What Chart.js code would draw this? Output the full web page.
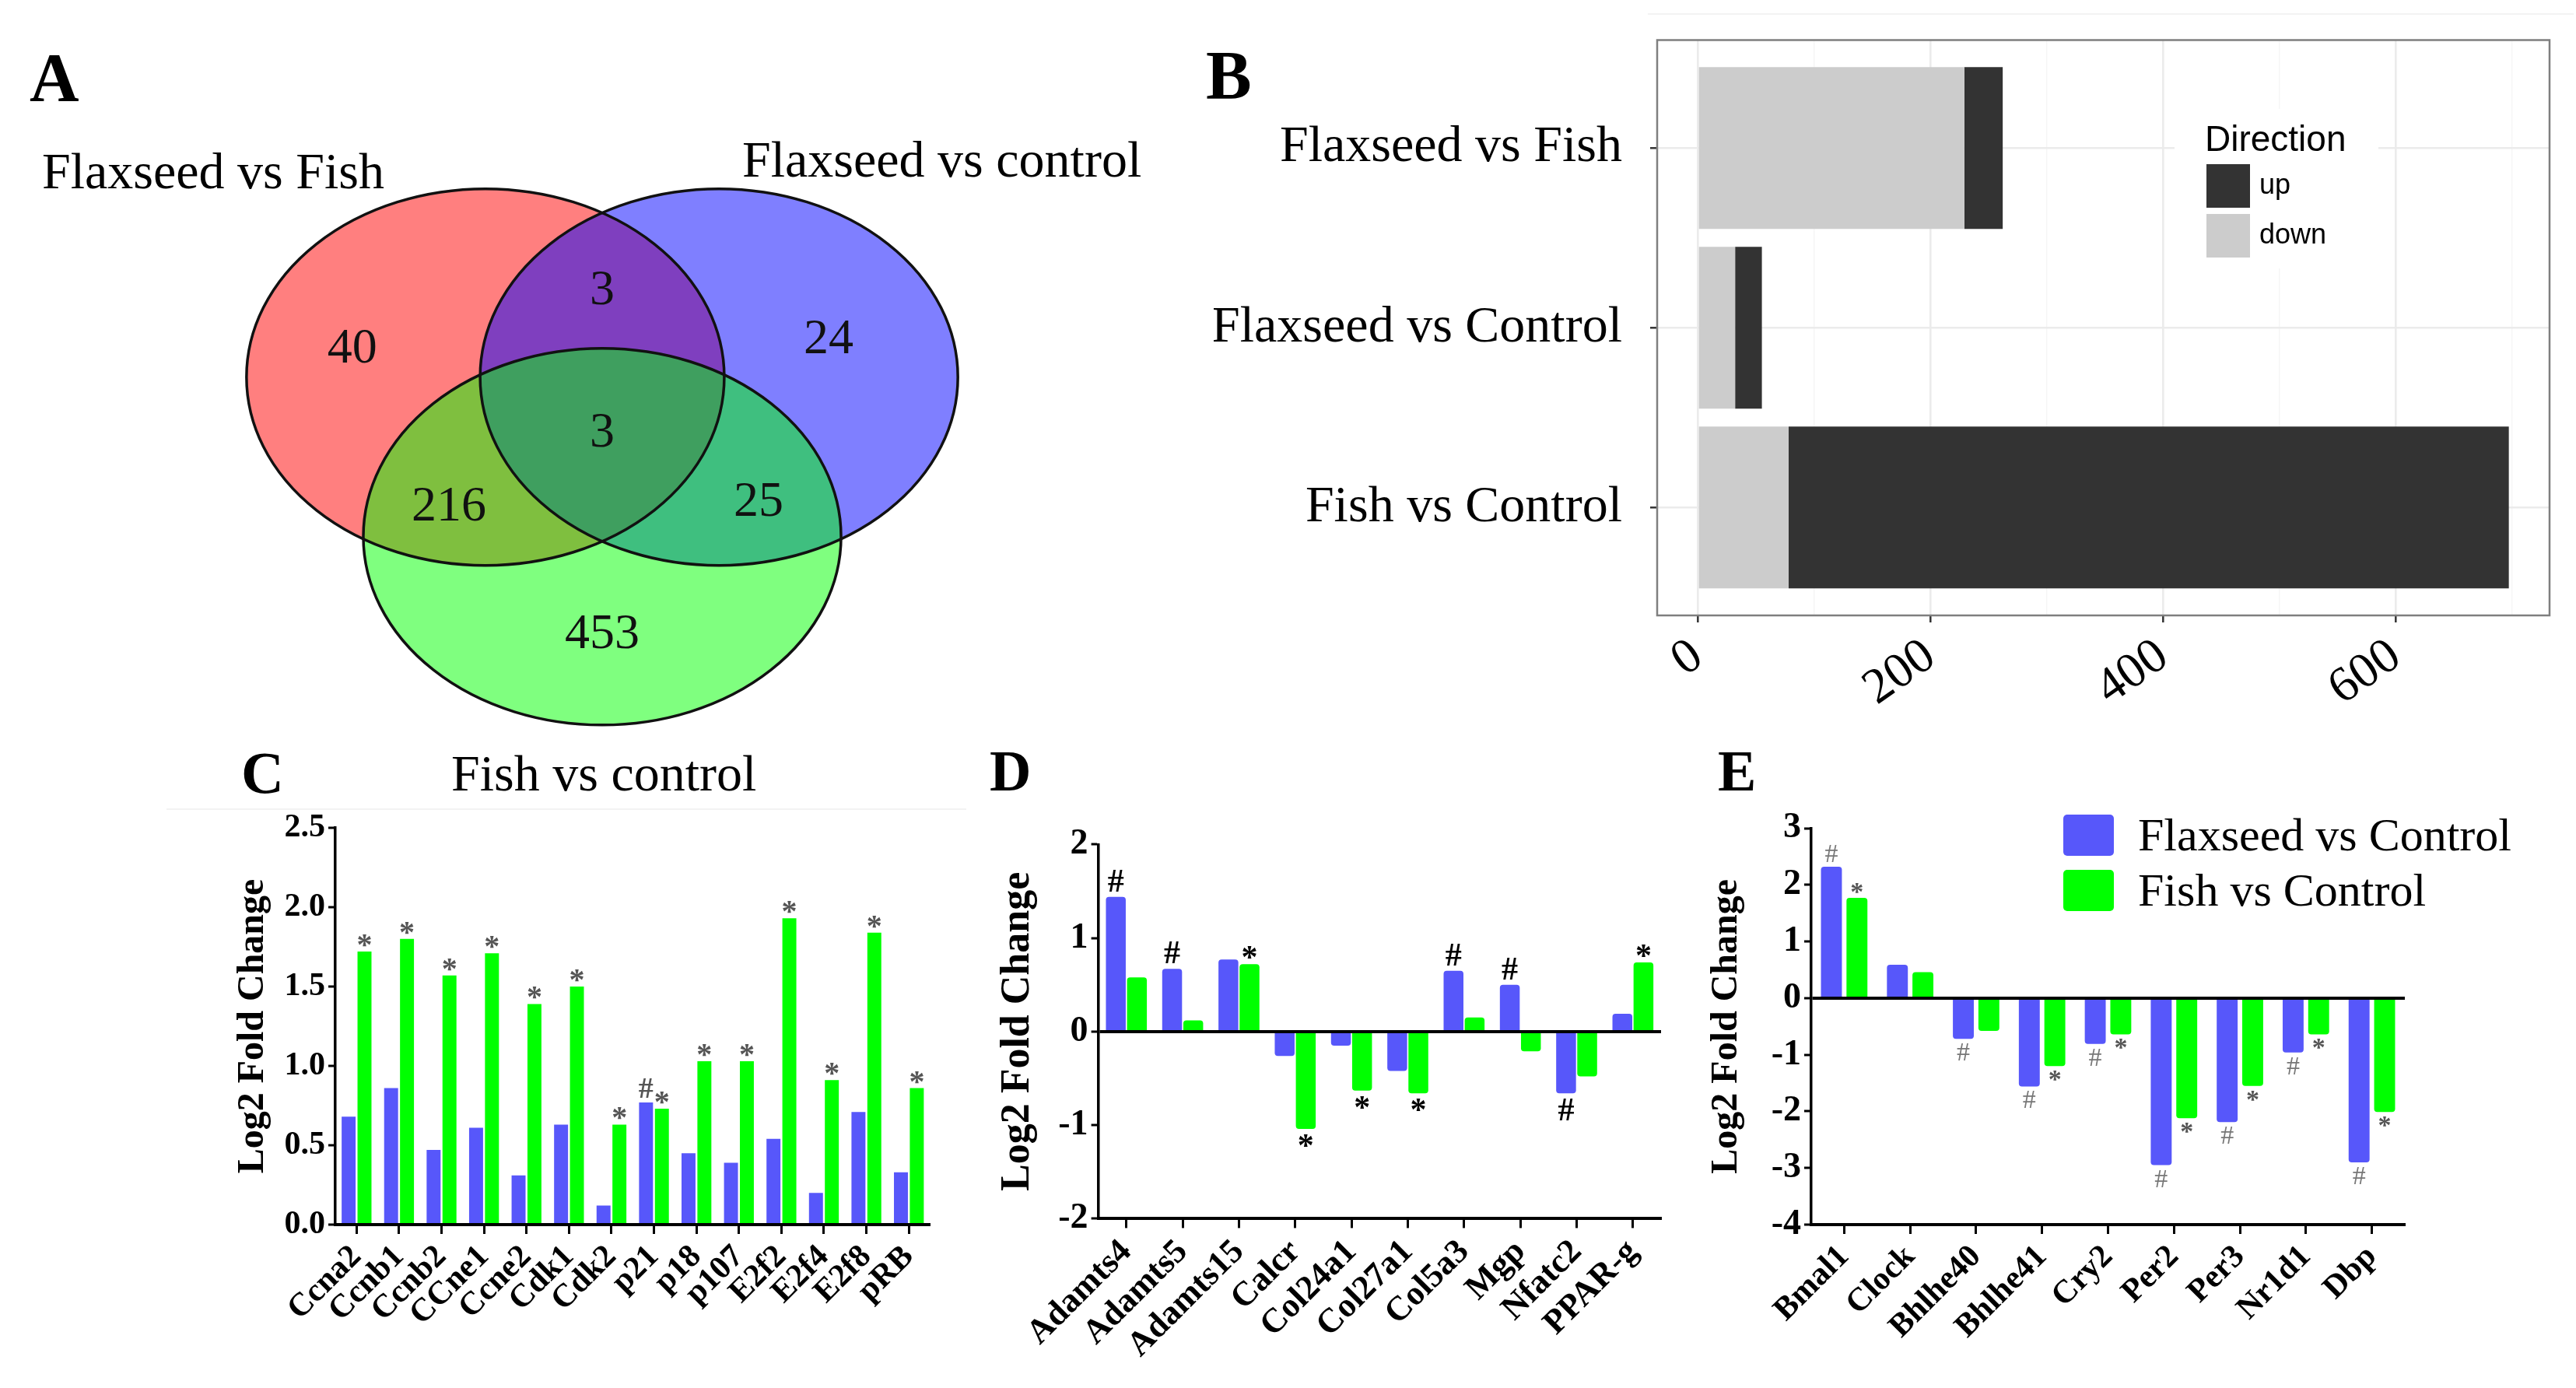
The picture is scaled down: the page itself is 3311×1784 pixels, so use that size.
<!DOCTYPE html>
<html>
<head>
<meta charset="utf-8">
<script src="https://cdn.jsdelivr.net/npm/chart.js@4.4.1/dist/chart.umd.min.js"></script>
<style>
  html, body { margin: 0; padding: 0; background: #fff; }
  body { width: 3311px; height: 1784px; position: relative; overflow: hidden; }
  canvas { position: absolute; }
  .txt { position: absolute; line-height: 1; white-space: nowrap; color: #000;
         font-family: "Liberation Serif", "Times New Roman", serif; }
  .b { font-weight: bold; }
  .rule { position: absolute; height: 2px; background: #f3f3f3; }
</style>
</head>
<body>
<canvas id="chartA" width="1560" height="950" style="left:0;top:0;width:1560px;height:950px"></canvas>
<canvas id="chartB" width="1751" height="950" style="left:1560px;top:0;width:1751px;height:950px"></canvas>
<canvas id="chartC" width="1060" height="754" style="left:200px;top:1030px;width:1060px;height:754px"></canvas>
<canvas id="chartD" width="890" height="754" style="left:1260px;top:1030px;width:890px;height:754px"></canvas>
<canvas id="chartE" width="1161" height="754" style="left:2150px;top:1030px;width:1161px;height:754px"></canvas>

<div class="rule" style="left:2118px;top:17px;width:1190px"></div>
<div class="rule" style="left:214px;top:1039px;width:1028px"></div>

<div class="txt b" style="left:38px;top:56px;font-size:88px">A</div>
<div class="txt b" style="left:1550px;top:53px;font-size:88px">B</div>
<div class="txt b" style="left:310px;top:955px;font-size:76px">C</div>
<div class="txt b" style="left:1272px;top:954px;font-size:74px">D</div>
<div class="txt b" style="left:2208px;top:954px;font-size:74px">E</div>
<div class="txt" style="left:54px;top:187px;font-size:66px">Flaxseed vs Fish</div>
<div class="txt" style="left:954px;top:172px;font-size:66px">Flaxseed vs control</div>
<div class="txt" style="left:580px;top:961px;font-size:66px">Fish vs control</div>

<script>
// ---- data ----
const vennSets = ['Flaxseed vs Fish', 'Flaxseed vs control', 'Fish vs control'];
// regions: FvF only, FvF&FvC, FvC only, all three, FvF&Fish, FvC&Fish, Fish only
const vennCounts = [40, 3, 24, 3, 216, 25, 453];

const bCategories = ['Flaxseed vs Fish', 'Flaxseed vs Control', 'Fish vs Control'];
const bDown = [229, 32, 78];
const bUp = [33, 23, 619];
const bTickLabels = [0, 200, 400, 600];

const seriesNames = ['Flaxseed vs Control', 'Fish vs Control'];

const cGenes = ['Ccna2', 'Ccnb1', 'Ccnb2', 'CCne1', 'Ccne2', 'Cdk1', 'Cdk2', 'p21', 'p18', 'p107', 'E2f2', 'E2f4', 'E2f8', 'pRB'];
const cFlax = [0.68, 0.86, 0.47, 0.61, 0.31, 0.63, 0.12, 0.77, 0.45, 0.39, 0.54, 0.20, 0.71, 0.33];
const cFish = [1.72, 1.80, 1.57, 1.71, 1.39, 1.50, 0.63, 0.73, 1.03, 1.03, 1.93, 0.91, 1.84, 0.86];
const cFlaxSig = ['', '', '', '', '', '', '', '#', '', '', '', '', '', ''];
const cFishSig = ['*', '*', '*', '*', '*', '*', '*', '*', '*', '*', '*', '*', '*', '*'];

const dGenes = ['Adamts4', 'Adamts5', 'Adamts15', 'Calcr', 'Col24a1', 'Col27a1', 'Col5a3', 'Mgp', 'Nfatc2', 'PPAR-g'];
const dFlax = [1.44, 0.67, 0.77, -0.26, -0.15, -0.42, 0.65, 0.50, -0.66, 0.19];
const dFish = [0.58, 0.12, 0.72, -1.04, -0.63, -0.66, 0.15, -0.21, -0.48, 0.74];
const dFlaxSig = ['#', '#', '', '', '', '', '#', '#', '#', ''];
const dFishSig = ['', '', '*', '*', '*', '*', '', '', '', '*'];

const eGenes = ['Bmal1', 'Clock', 'Bhlhe40', 'Bhlhe41', 'Cry2', 'Per2', 'Per3', 'Nr1d1', 'Dbp'];
const eFlax = [2.32, 0.59, -0.72, -1.56, -0.81, -2.95, -2.19, -0.96, -2.90];
const eFish = [1.77, 0.46, -0.58, -1.20, -0.64, -2.12, -1.55, -0.64, -2.01];
const eFlaxSig = ['#', '', '#', '#', '#', '#', '#', '#', '#'];
const eFishSig = ['*', '', '', '*', '*', '*', '*', '*', '*'];

// ---- styling ----
const SERIF = '"Liberation Serif", "Times New Roman", serif';
const SANS = '"Liberation Sans", Arial, sans-serif';
const BLUE = '#5757fa';
const GREEN = '#00ff00';

Chart.defaults.animation = false;
Chart.defaults.events = [];
Chart.defaults.plugins.legend.display = false;
Chart.defaults.plugins.tooltip.enabled = false;

// ---- A: venn ----
// unit circles, drawn through the x/y scales
const vennCenters = [[-0.489, 0.2825], [0.489, 0.2825], [0, -0.565]];
const vennFills = ['rgba(255,0,0,0.5)', 'rgba(0,0,255,0.5)', 'rgba(0,255,0,0.5)'];
const vennSpots = [[-1.046, 0.446], [0, 0.756], [0.948, 0.496], [0, 0], [-0.642, -0.393], [0.655, -0.368], [0, -1.07]];

const vennPlugin = {
  id: 'venn',
  afterDatasetsDraw(chart) {
    const { ctx } = chart;
    const x = chart.scales.x, y = chart.scales.y;
    const shapes = vennCenters.map(c => ({
      cx: x.getPixelForValue(c[0]),
      cy: y.getPixelForValue(c[1]),
      rx: Math.abs(x.getPixelForValue(c[0] + 1) - x.getPixelForValue(c[0])),
      ry: Math.abs(y.getPixelForValue(c[1] + 1) - y.getPixelForValue(c[1]))
    }));
    ctx.save();
    shapes.forEach((s, i) => {
      ctx.beginPath();
      ctx.ellipse(s.cx, s.cy, s.rx, s.ry, 0, 0, Math.PI * 2);
      ctx.fillStyle = vennFills[i];
      ctx.fill();
    });
    ctx.lineWidth = 3.5;
    ctx.strokeStyle = '#111';
    shapes.forEach(s => {
      ctx.beginPath();
      ctx.ellipse(s.cx, s.cy, s.rx, s.ry, 0, 0, Math.PI * 2);
      ctx.stroke();
    });
    ctx.fillStyle = '#111';
    ctx.font = '64px ' + SERIF;
    ctx.textAlign = 'center';
    ctx.textBaseline = 'alphabetic';
    vennCounts.forEach((n, i) => {
      const p = vennSpots[i];
      ctx.fillText(String(n), x.getPixelForValue(p[0]), y.getPixelForValue(p[1]) + 21);
    });
    ctx.restore();
  }
};

new Chart(document.getElementById('chartA'), {
  type: 'scatter',
  data: { datasets: [{ label: vennSets.join(', '), data: vennSpots.map(p => ({ x: p[0], y: p[1] })), pointRadius: 0 }] },
  options: {
    responsive: false,
    layout: { padding: 0 },
    scales: {
      x: { type: 'linear', display: false, min: -2.521, max: 2.560 },
      y: { type: 'linear', display: false, min: -1.640, max: 2.285 }
    }
  },
  plugins: [vennPlugin]
});

// ---- B: stacked horizontal bars ----
const panelBorder = {
  id: 'panelBorder',
  afterDatasetsDraw(chart) {
    const { ctx, chartArea: a } = chart;
    ctx.save();
    ctx.strokeStyle = '#7f7f7f';
    ctx.lineWidth = 2.5;
    ctx.strokeRect(a.left, a.top, a.right - a.left, a.bottom - a.top);
    ctx.restore();
  }
};

const directionLegend = {
  id: 'directionLegend',
  afterDraw(chart) {
    const { ctx } = chart;
    const sets = chart.data.datasets;
    ctx.save();
    ctx.fillStyle = '#fff';
    ctx.fillRect(1235, 140, 262, 205);
    ctx.fillStyle = '#000';
    ctx.font = '46px ' + SANS;
    ctx.textBaseline = 'alphabetic';
    ctx.fillText('Direction', 1274, 194);
    ctx.font = '36px ' + SANS;
    ctx.textBaseline = 'middle';
    // up first, then down (legend order)
    [sets[1], sets[0]].forEach((ds, i) => {
      const top = 211 + i * 64;
      ctx.fillStyle = ds.backgroundColor;
      ctx.fillRect(1276, top, 56, 56);
      ctx.fillStyle = '#000';
      ctx.fillText(ds.label, 1344, top + 28);
    });
    ctx.restore();
  }
};

new Chart(document.getElementById('chartB'), {
  type: 'bar',
  data: {
    datasets: [
      { label: 'down', data: bDown.map((v, i) => ({ x: v, y: i })), backgroundColor: '#cccccc' },
      { label: 'up', data: bUp.map((v, i) => ({ x: v, y: i })), backgroundColor: '#333333' }
    ]
  },
  options: {
    responsive: false,
    indexAxis: 'y',
    layout: { padding: { top: 51.5, right: 34, left: 0, bottom: 0 } },
    datasets: { bar: { barPercentage: 0.9, categoryPercentage: 1 } },
    scales: {
      x: {
        type: 'linear', stacked: true, min: -35, max: 732, offset: false,
        afterBuildTicks: s => { s.ticks = [0, 100, 200, 300, 400, 500, 600, 700].map(v => ({ value: v })); },
        ticks: {
          autoSkip: false, minRotation: 35, maxRotation: 35, padding: 6, color: '#000',
          font: { family: SERIF, size: 64 },
          callback: v => bTickLabels.includes(v) ? String(v) : ''
        },
        grid: {
          offset: false,
          color: c => (c.tick && c.tick.value % 200 === 0) ? '#ebebeb' : '#f5f5f5',
          lineWidth: c => (c.tick && c.tick.value % 200 === 0) ? 2.6 : 1.4,
          tickColor: c => (c.tick && c.tick.value % 200 === 0) ? '#333' : 'rgba(0,0,0,0)',
          tickLength: 9, tickWidth: 2.5
        },
        border: { display: false },
        afterFit: s => { s.height = 159; }
      },
      y: {
        type: 'linear', stacked: true, reverse: true, min: -0.6, max: 2.6, offset: false,
        afterBuildTicks: s => { s.ticks = bCategories.map((c, i) => ({ value: i })); },
        ticks: {
          autoSkip: false, padding: 36, color: '#000',
          font: { family: SERIF, size: 66 },
          callback: v => bCategories[v]
        },
        grid: { offset: false, color: '#ebebeb', lineWidth: 2.6, tickColor: '#333', tickLength: 9, tickWidth: 2.5 },
        border: { display: false },
        afterFit: s => { s.width = 570; s.paddingTop = 0; s.paddingBottom = 0; }
      }
    }
  },
  plugins: [panelBorder, directionLegend]
});

// ---- C, D, E: grouped bars ----
const sigMarks = {
  id: 'sigMarks',
  afterDatasetsDraw(chart, args, opts) {
    const { ctx } = chart;
    ctx.save();
    ctx.textAlign = 'center';
    ctx.textBaseline = 'alphabetic';
    chart.data.datasets.forEach((ds, di) => {
      const meta = chart.getDatasetMeta(di);
      meta.data.forEach((bar, j) => {
        const mark = ds.sig[j];
        if (!mark) return;
        const st = opts.styles[mark];
        ctx.font = st.font;
        ctx.fillStyle = st.color;
        const m = ctx.measureText(mark);
        let base;
        if (ds.data[j] >= 0) {
          base = bar.y - opts.gap - m.actualBoundingBoxDescent;
        } else {
          base = bar.y + opts.gap + m.actualBoundingBoxAscent;
        }
        ctx.fillText(mark, bar.x, base);
      });
    });
    ctx.restore();
  }
};

const seLegend = {
  id: 'seLegend',
  afterDraw(chart) {
    const { ctx } = chart;
    ctx.save();
    ctx.font = '60px ' + SERIF;
    ctx.textBaseline = 'middle';
    chart.data.datasets.forEach((ds, i) => {
      const top = 17 + i * 71;
      ctx.fillStyle = ds.backgroundColor;
      ctx.beginPath();
      ctx.roundRect(502, top, 65, 53, 5);
      ctx.fill();
      ctx.fillStyle = '#000';
      ctx.fillText(ds.label, 598, top + 30);
    });
    ctx.restore();
  }
};

function groupedBars(id, p) {
  return new Chart(document.getElementById(id), {
    type: 'bar',
    data: {
      labels: p.labels,
      datasets: [
        { label: seriesNames[0], data: p.flax, sig: p.flaxSig, backgroundColor: BLUE },
        { label: seriesNames[1], data: p.fish, sig: p.fishSig, backgroundColor: GREEN }
      ]
    },
    options: {
      responsive: false,
      layout: { padding: { top: p.top, right: p.right, left: 0, bottom: 0 } },
      datasets: { bar: { categoryPercentage: p.catPct, barPercentage: p.barPct, borderRadius: p.radius, borderSkipped: 'start' } },
      plugins: { sigMarks: { gap: p.gap, styles: p.sigStyles } },
      scales: {
        x: {
          grid: { offset: false, drawOnChartArea: false, tickLength: 12, tickWidth: 3, tickColor: '#000' },
          border: { color: '#000', width: 4 },
          ticks: {
            autoSkip: false, minRotation: 45, maxRotation: 45, padding: 5, color: '#000',
            font: { family: SERIF, size: p.labelSize, weight: 'bold' }
          },
          afterFit: s => { s.height = p.xH; }
        },
        y: {
          min: p.min, max: p.max,
          ticks: {
            stepSize: p.step, padding: 4, color: '#000',
            font: { family: SERIF, size: p.tickSize, weight: 'bold' },
            callback: p.fmt
          },
          grid: {
            color: c => (p.zeroLine && c.tick && c.tick.value === 0) ? '#000' : 'rgba(0,0,0,0)',
            lineWidth: 4,
            tickLength: 9, tickWidth: 3, tickColor: '#000'
          },
          border: { color: '#000', width: 3.5 },
          title: {
            display: true, text: 'Log2 Fold Change', color: '#000',
            font: { family: SERIF, size: p.titleSize, weight: 'bold' },
            padding: { top: p.titlePad, bottom: 0 }
          },
          afterFit: s => { s.width = p.yW; }
        }
      }
    },
    plugins: [sigMarks].concat(p.extra || [])
  });
}

groupedBars('chartC', {
  labels: cGenes, flax: cFlax, fish: cFish, flaxSig: cFlaxSig, fishSig: cFishSig,
  top: 34, right: 64.5, xH: 210, yW: 231, min: 0, max: 2.5, step: 0.5,
  fmt: v => v.toFixed(1), tickSize: 42, labelSize: 42, titleSize: 48, titlePad: 97,
  catPct: 0.747, barPct: 0.88, radius: 0, zeroLine: false, gap: 6,
  sigStyles: {
    '*': { font: 'bold 40px ' + SERIF, color: '#555' },
    '#': { font: 'bold 38px ' + SERIF, color: '#555' }
  }
});

groupedBars('chartD', {
  labels: dGenes, flax: dFlax, fish: dFish, flaxSig: dFlaxSig, fishSig: dFishSig,
  top: 55.4, right: 15, xH: 217.6, yW: 151.6, min: -2, max: 2, step: 1,
  fmt: v => String(v), tickSize: 46, labelSize: 44, titleSize: 52, titlePad: 17.8,
  catPct: 0.75, barPct: 0.94, radius: 4, zeroLine: true, gap: 7,
  sigStyles: {
    '*': { font: 'bold 42px ' + SERIF, color: '#000' },
    '#': { font: 'bold 42px ' + SERIF, color: '#000' }
  }
});

groupedBars('chartE', {
  labels: eGenes, flax: eFlax, fish: eFish, flaxSig: eFlaxSig, fishSig: eFishSig,
  top: 34.6, right: 220, xH: 210, yW: 178, min: -4, max: 3, step: 1,
  fmt: v => String(v), tickSize: 46, labelSize: 42, titleSize: 48, titlePad: 41,
  catPct: 0.774, barPct: 0.82, radius: 4, zeroLine: true, gap: 6,
  sigStyles: {
    '*': { font: 'bold 34px ' + SERIF, color: '#555' },
    '#': { font: '34px ' + SERIF, color: '#777' }
  },
  extra: [seLegend]
});
</script>
</body>
</html>
